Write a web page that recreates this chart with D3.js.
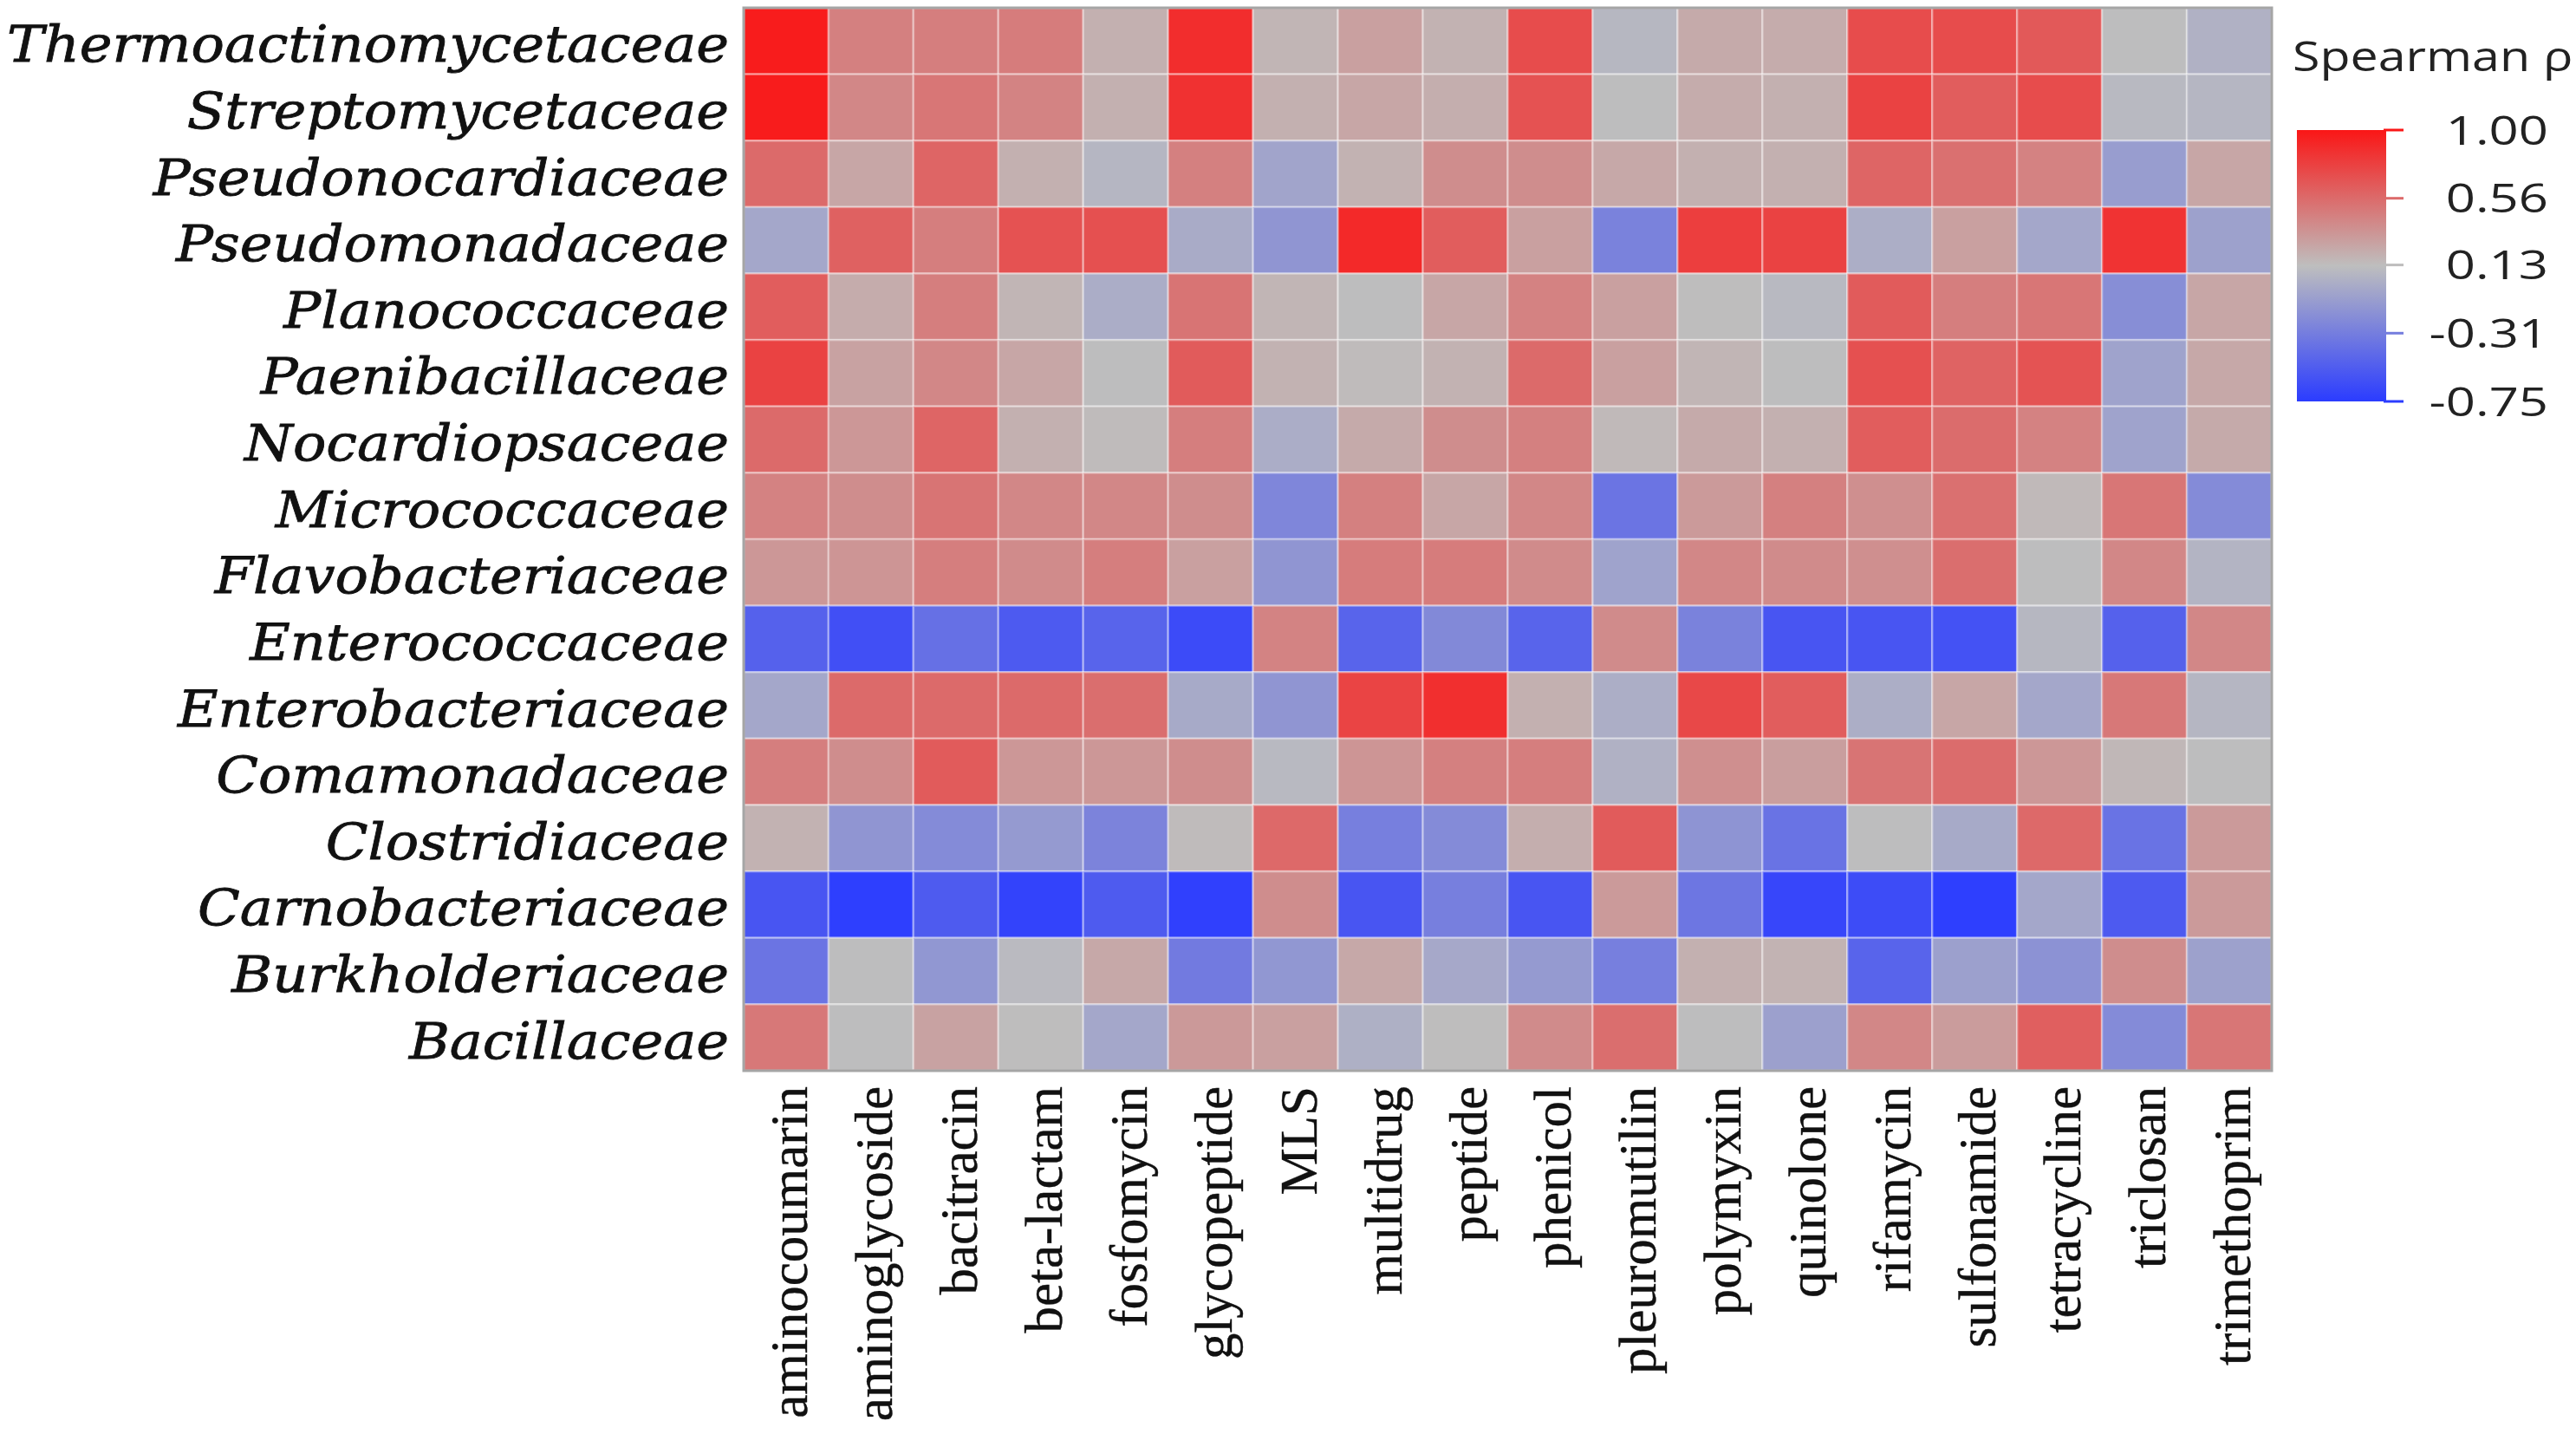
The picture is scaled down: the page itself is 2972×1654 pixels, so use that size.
<!DOCTYPE html>
<html lang="en">
<head>
  <meta charset="UTF-8">
  <title>Spearman heatmap</title>
</head>
<body>
<style>
  * {
    padding: 0;
    margin: 0;
  }

  body {
    background: #fff;
  }

  #app {
    width: 2972px;
    height: 1654px;
  }
</style>

<div id="app"></div>

<script src="https://cdn.jsdelivr.net/npm/d3@7"></script>
<script>
  // families (rows, top to bottom) and antibiotic classes (columns)
  var families = ["Thermoactinomycetaceae", "Streptomycetaceae", "Pseudonocardiaceae", "Pseudomonadaceae",
    "Planococcaceae", "Paenibacillaceae", "Nocardiopsaceae", "Micrococcaceae", "Flavobacteriaceae",
    "Enterococcaceae", "Enterobacteriaceae", "Comamonadaceae", "Clostridiaceae", "Carnobacteriaceae",
    "Burkholderiaceae", "Bacillaceae"];

  var drugs = ["aminocoumarin", "aminoglycoside", "bacitracin", "beta-lactam", "fosfomycin", "glycopeptide",
    "MLS", "multidrug", "peptide", "phenicol", "pleuromutilin", "polymyxin", "quinolone", "rifamycin",
    "sulfonamide", "tetracycline", "triclosan", "trimethoprim"];

  // spearman rho per family, same order as drugs
  var thermoactinomycetaceae = [0.97, 0.45, 0.46, 0.47, 0.20, 0.88, 0.17, 0.28, 0.19, 0.72, 0.08, 0.23, 0.22, 0.72, 0.72, 0.65, 0.12, 0.04];
  var streptomycetaceae = [0.97, 0.41, 0.50, 0.43, 0.20, 0.86, 0.20, 0.25, 0.21, 0.69, 0.12, 0.22, 0.20, 0.77, 0.63, 0.72, 0.09, 0.07];
  var pseudonocardiaceae = [0.56, 0.25, 0.59, 0.20, 0.07, 0.45, -0.05, 0.19, 0.38, 0.38, 0.24, 0.20, 0.20, 0.59, 0.53, 0.44, -0.10, 0.25];
  var pseudomonadaceae = [-0.03, 0.61, 0.46, 0.69, 0.70, 0.00, -0.15, 0.90, 0.63, 0.28, -0.28, 0.79, 0.77, 0.02, 0.28, -0.03, 0.85, -0.07];
  var planococcaceae = [0.63, 0.22, 0.46, 0.17, 0.01, 0.51, 0.17, 0.12, 0.25, 0.44, 0.28, 0.13, 0.09, 0.64, 0.46, 0.50, -0.20, 0.25];
  var paenibacillaceae = [0.77, 0.27, 0.41, 0.25, 0.12, 0.64, 0.19, 0.14, 0.19, 0.56, 0.28, 0.17, 0.12, 0.70, 0.60, 0.68, -0.06, 0.24];
  var nocardiopsaceae = [0.56, 0.33, 0.59, 0.20, 0.14, 0.46, 0.01, 0.23, 0.38, 0.45, 0.15, 0.23, 0.20, 0.63, 0.55, 0.44, -0.06, 0.23];
  var micrococcaceae = [0.44, 0.38, 0.51, 0.41, 0.41, 0.38, -0.25, 0.45, 0.25, 0.41, -0.37, 0.31, 0.45, 0.37, 0.53, 0.15, 0.50, -0.22];
  var flavobacteriaceae = [0.33, 0.34, 0.46, 0.39, 0.46, 0.28, -0.15, 0.47, 0.47, 0.39, -0.06, 0.41, 0.39, 0.37, 0.54, 0.12, 0.41, 0.06];
  var enterococcaceae = [-0.50, -0.62, -0.40, -0.55, -0.48, -0.65, 0.43, -0.48, -0.23, -0.48, 0.39, -0.28, -0.58, -0.58, -0.60, 0.08, -0.50, 0.41];
  var enterobacteriaceae = [-0.03, 0.56, 0.56, 0.56, 0.54, -0.01, -0.15, 0.76, 0.87, 0.20, 0.02, 0.74, 0.63, 0.02, 0.25, -0.03, 0.49, 0.07];
  var comamonadaceae = [0.46, 0.38, 0.64, 0.33, 0.33, 0.38, 0.09, 0.34, 0.45, 0.46, 0.04, 0.37, 0.29, 0.51, 0.55, 0.33, 0.16, 0.12];
  var clostridiaceae = [0.19, -0.15, -0.22, -0.12, -0.27, 0.14, 0.57, -0.30, -0.22, 0.21, 0.64, -0.16, -0.38, 0.12, -0.01, 0.57, -0.38, 0.31];
  var carnobacteriaceae = [-0.58, -0.73, -0.54, -0.70, -0.54, -0.72, 0.38, -0.58, -0.30, -0.58, 0.31, -0.36, -0.68, -0.64, -0.73, -0.03, -0.55, 0.31];
  var burkholderiaceae = [-0.37, 0.12, -0.14, 0.10, 0.24, -0.33, -0.14, 0.24, -0.02, -0.12, -0.30, 0.20, 0.18, -0.48, -0.08, -0.17, 0.38, -0.07];
  var bacillaceae = [0.49, 0.12, 0.27, 0.13, -0.03, 0.32, 0.28, 0.03, 0.13, 0.39, 0.54, 0.12, -0.08, 0.41, 0.30, 0.62, -0.22, 0.50];

  var legendTicks = [1.00, 0.56, 0.13, -0.31, -0.75];
  var legendTitle = "Spearman \u03c1";

  function drawHeatmap() {
    var rows = [thermoactinomycetaceae, streptomycetaceae, pseudonocardiaceae, pseudomonadaceae,
      planococcaceae, paenibacillaceae, nocardiopsaceae, micrococcaceae, flavobacteriaceae,
      enterococcaceae, enterobacteriaceae, comamonadaceae, clostridiaceae, carnobacteriaceae,
      burkholderiaceae, bacillaceae];

    var cells = [];
    rows.forEach(function (r, i) {
      r.forEach(function (v, j) {
        cells.push({fam: families[i], drug: drugs[j], v: v});
      });
    });

    var svg = d3.select('#app').append('svg')
      .attr('width', 2972).attr('height', 1654)
      .attr('viewBox', '0,0 2972,1654');

    var x = d3.scaleBand().domain(drugs).range([858, 2621]);
    var y = d3.scaleBand().domain(families).range([9, 1235]);

    var color = d3.scaleLinear()
      .domain([-0.75, 0.125, 1])
      .range(['#2b3cff', '#bebebe', '#fa1616']);

    // cells
    svg.append('g').selectAll('rect').data(cells).join('rect')
      .attr('x', d => x(d.drug))
      .attr('y', d => y(d.fam))
      .attr('width', x.bandwidth())
      .attr('height', y.bandwidth())
      .attr('fill', d => color(d.v))
      .attr('stroke', 'rgba(255,255,255,0.35)')
      .attr('stroke-width', 2.5);

    // frame
    svg.append('rect')
      .attr('x', 858).attr('y', 9)
      .attr('width', 2621 - 858).attr('height', 1235 - 9)
      .attr('fill', 'none').attr('stroke', '#a5a5a5').attr('stroke-width', 3);

    // row labels (italic, stretched wide like the original)
    var rowG = svg.append('g');
    var rowText = rowG.selectAll('text').data(families).join('text')
      .attr('text-anchor', 'end')
      .attr('font-family', '"DejaVu Serif", serif')
      .attr('font-style', 'italic')
      .attr('font-size', 57)
      .attr('fill', '#111')
      .attr('stroke', '#111')
      .attr('stroke-width', 0.8)
      .text(d => d);
    var widest = d3.max(rowText.nodes(), n => n.getComputedTextLength());
    var k = 833 / widest;
    rowText.attr('transform', d => 'translate(841,' + (y(d) + y.bandwidth() / 2 + 24) + ') scale(' + k + ',1)');

    // column labels
    svg.append('g').selectAll('text').data(drugs).join('text')
      .attr('transform', d => 'translate(' + (x(d) + x.bandwidth() / 2) + ',1253) rotate(-90)')
      .attr('text-anchor', 'end')
      .attr('dy', 24)
      .attr('font-family', '"Liberation Serif", "Times New Roman", serif')
      .attr('font-size', 61)
      .attr('fill', '#111')
      .attr('stroke', '#111')
      .attr('stroke-width', 0.4)
      .text(d => d);

    // legend
    var ly = d3.scaleLinear().domain([-0.75, 1]).range([463, 150]);
    var grad = svg.append('defs').append('linearGradient')
      .attr('id', 'rhoGrad').attr('x1', 0).attr('y1', 1).attr('x2', 0).attr('y2', 0);
    grad.selectAll('stop').data(color.domain()).join('stop')
      .attr('offset', d => (d + 0.75) / 1.75)
      .attr('stop-color', d => color(d));

    svg.append('rect')
      .attr('x', 2650).attr('y', ly(1))
      .attr('width', 103).attr('height', ly(-0.75) - ly(1))
      .attr('fill', 'url(#rhoGrad)');

    svg.append('g').selectAll('line').data(legendTicks).join('line')
      .attr('x1', 2750).attr('x2', 2773)
      .attr('y1', d => ly(d)).attr('y2', d => ly(d))
      .attr('stroke', d => color(d)).attr('stroke-width', 3);

    // legend text is a little wider than the font, like the row labels
    svg.append('g').selectAll('text').data(legendTicks).join('text')
      .attr('transform', d => 'translate(2940,' + ly(d) + ') scale(1.3,1)')
      .attr('dy', '0.36em')
      .attr('text-anchor', 'end')
      .attr('font-family', '"Open Sans", sans-serif')
      .attr('font-size', 46)
      .attr('fill', '#222')
      .text(d => d.toFixed(2));

    svg.append('text')
      .attr('transform', 'translate(2645,82) scale(1.22,1)')
      .attr('font-family', '"Open Sans", sans-serif')
      .attr('font-size', 47)
      .attr('fill', '#222')
      .text(legendTitle);
  }

  drawHeatmap()
</script>
</body>
</html>
